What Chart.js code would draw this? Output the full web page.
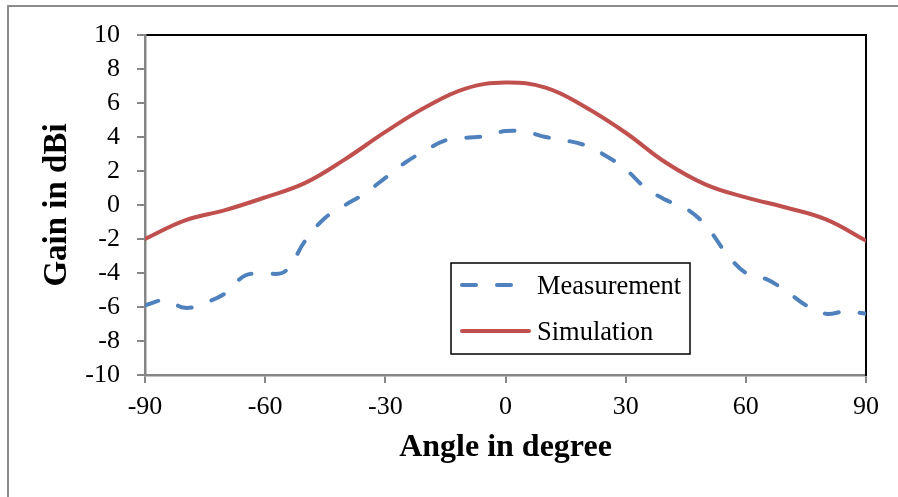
<!DOCTYPE html>
<html>
<head>
<meta charset="utf-8">
<script src="https://cdn.jsdelivr.net/npm/chart.js@4/dist/chart.umd.min.js"></script>
<style>
  html, body { margin: 0; padding: 0; background: #fff; }
  #wrap { position: relative; width: 898px; height: 497px; overflow: hidden; }
  #frame {
    position: absolute; left: 7px; top: 5px; width: 900px; height: 500px;
    border-left: 2px solid #8c8c8c; border-top: 2px solid #8c8c8c;
  }
  #gainChart { position: absolute; left: 0; top: 0; }
</style>
</head>
<body>
<div id="wrap">
  <div id="frame"></div>
  <canvas id="gainChart" width="898" height="497"></canvas>
</div>
<script>
// =============================================================================
// DATA
// =============================================================================
const simAngles = [-90, -80, -70, -60, -50, -40, -30, -20, -10, 0,
                   10, 20, 30, 40, 50, 60, 70, 80, 90];
const simGain   = [-2.0, -0.9, -0.3, 0.45, 1.3, 2.7, 4.3, 5.75, 6.85, 7.2,
                   6.9, 5.75, 4.25, 2.5, 1.2, 0.45, -0.15, -0.85, -2.1];

const measAngles = [-90, -85, -80, -75, -70, -65, -60, -55, -50, -45,
                    -40, -35, -30, -25, -20, -15, -10, -5, 0,
                    5, 10, 15, 20, 25, 30, 35, 40, 45,
                    50, 55, 60, 65, 70, 75, 80, 85, 90];
const measGain   = [-5.9, -5.6, -6.05, -5.75, -5.2, -4.15, -4.05, -3.9, -2.1, -0.75,
                    0.0, 0.7, 1.6, 2.5, 3.2, 3.8, 3.95, 4.05, 4.35,
                    4.3, 4.0, 3.8, 3.5, 2.9, 2.1, 1.0, 0.3, -0.2,
                    -1.2, -2.8, -4.0, -4.35, -5.05, -5.9, -6.4, -6.25, -6.4];

const xTicks = { min: -90, max: 90, step: 30 };
const yTicks = { min: -10, max: 10, step: 2 };

const FONT = "'Liberation Serif', 'Times New Roman', serif";
const AXIS_GRAY = "#868686";

function toPoints(xs, ys) {
  return xs.map((x, i) => ({ x, y: ys[i] }));
}

// =============================================================================
// LEGEND (box inside the plot, drawn from the dataset styles)
// =============================================================================
const boxLegend = {
  id: "boxLegend",
  afterDraw(chart) {
    const ctx = chart.ctx;
    const box = { left: 451, top: 263, right: 690, bottom: 354 };
    ctx.save();
    ctx.fillStyle = "#fff";
    ctx.fillRect(box.left, box.top, box.right - box.left, box.bottom - box.top);
    ctx.strokeStyle = "#000";
    ctx.lineWidth = 1.5;
    ctx.strokeRect(box.left, box.top, box.right - box.left, box.bottom - box.top);

    const rows = [285, 331];
    chart.data.datasets.forEach((ds, i) => {
      const y = rows[i];
      ctx.beginPath();
      ctx.strokeStyle = ds.borderColor;
      ctx.lineWidth = ds.borderWidth;
      ctx.lineCap = "round";
      ctx.setLineDash(ds.borderDash || []);
      ctx.moveTo(462, y);
      ctx.lineTo(ds.borderDash ? 514 : 529, y);
      ctx.stroke();
      ctx.setLineDash([]);

      ctx.fillStyle = "#000";
      ctx.font = `26.5px ${FONT}`;
      ctx.textBaseline = "alphabetic";
      ctx.textAlign = "left";
      ctx.fillText(ds.label, 537, y + 9);
    });
    ctx.restore();
  }
};

// =============================================================================
// CHART
// =============================================================================
new Chart(document.getElementById("gainChart").getContext("2d"), {
  type: "line",
  data: {
    datasets: [
      {
        label: "Measurement",
        data: toPoints(measAngles, measGain),
        borderColor: "#4F81BD",
        borderWidth: 4,
        borderDash: [14, 21],
        borderCapStyle: "round",
        tension: 0.4,
        pointRadius: 0,
        fill: false
      },
      {
        label: "Simulation",
        data: toPoints(simAngles, simGain),
        borderColor: "#C0504D",
        borderWidth: 4,
        borderCapStyle: "round",
        tension: 0.4,
        pointRadius: 0,
        fill: false
      }
    ]
  },
  options: {
    responsive: false,
    devicePixelRatio: 1,
    animation: false,
    layout: { padding: { left: 0, top: 35, right: 32, bottom: 0 } },
    plugins: {
      legend: { display: false },
      tooltip: { enabled: false }
    },
    scales: {
      x: {
        type: "linear",
        position: "bottom",
        min: xTicks.min,
        max: xTicks.max,
        ticks: {
          stepSize: xTicks.step,
          autoSkip: false,
          color: "#000",
          font: { family: FONT, size: 26 },
          padding: 9,
          maxRotation: 0
        },
        grid: { drawOnChartArea: false, color: AXIS_GRAY, lineWidth: 2, tickLength: 8 },
        border: { color: AXIS_GRAY, width: 2.5 },
        title: {
          display: true,
          text: "Angle in degree",
          color: "#000",
          font: { family: FONT, size: 32, weight: "bold" },
          padding: { top: 0, bottom: 30 }
        },
        afterFit(scale) { scale.height = 122; }
      },
      xTop: {
        type: "linear",
        position: "top",
        min: xTicks.min,
        max: xTicks.max,
        ticks: { display: false },
        grid: { display: false },
        border: { color: "#000", width: 2 },
        afterFit(scale) { scale.height = 0; }
      },
      y: {
        type: "linear",
        position: "left",
        min: yTicks.min,
        max: yTicks.max,
        ticks: {
          stepSize: yTicks.step,
          autoSkip: false,
          color: "#000",
          font: { family: FONT, size: 26 },
          padding: 17
        },
        grid: { drawOnChartArea: false, color: AXIS_GRAY, lineWidth: 2, tickLength: 8 },
        border: { color: AXIS_GRAY, width: 2.5 },
        title: {
          display: true,
          text: "Gain in dBi",
          color: "#000",
          font: { family: FONT, size: 33, weight: "bold" },
          padding: { top: 38, bottom: 0 }
        },
        afterFit(scale) { scale.width = 145; }
      },
      yRight: {
        type: "linear",
        position: "right",
        min: yTicks.min,
        max: yTicks.max,
        ticks: { display: false },
        grid: { display: false },
        border: { color: "#000", width: 2 },
        afterFit(scale) { scale.width = 0; }
      }
    }
  },
  plugins: [boxLegend]
});
</script>
</body>
</html>
